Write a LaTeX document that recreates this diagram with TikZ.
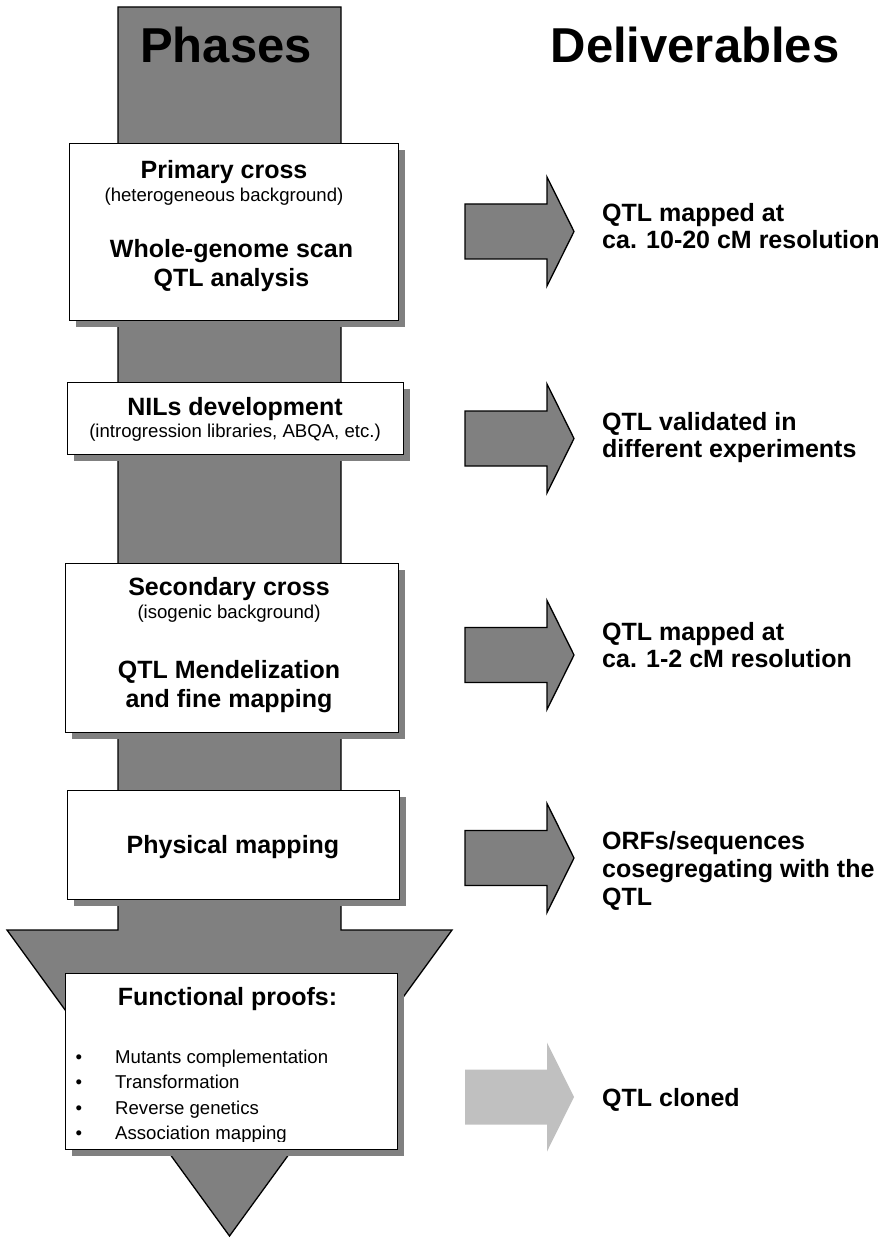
\documentclass[tikz,border=0pt]{standalone}
\usepackage{fontspec}
\setmainfont{Liberation Sans}
\usetikzlibrary{shadows}
\definecolor{phasegray}{RGB}{128,128,128}
\definecolor{palegray}{RGB}{192,192,192}
\tikzset{
  fatarrow/.pic={\path[pic actions] (0,-27.5) -- (82,-27.5) -- (82,-54.5) -- (109,0)
      -- (82,54.5) -- (82,27.5) -- (0,27.5) -- cycle;}
}
\begin{document}
\begin{tikzpicture}[x=1pt,y=-1pt,
  outline/.style={draw=black, line width=1.3pt, line join=miter},
  phasebox/.style={rectangle, draw=black, line width=1.3pt, fill=white,
    anchor=north west, inner sep=0pt,
    drop shadow={shadow xshift=6pt, shadow yshift=-6pt, fill=phasegray, opacity=1}},
  bigtitle/.style={font=\fontsize{49}{56}\selectfont\bfseries, anchor=base, inner sep=0pt},
  boldline/.style={font=\fontsize{25}{29}\selectfont\bfseries, anchor=base, inner sep=0pt},
  smallline/.style={font=\fontsize{18.6}{21}\selectfont, anchor=base, inner sep=0pt},
  bulletmark/.style={font=\fontsize{18.6}{21}\selectfont, anchor=base, inner sep=0pt},
  bullettext/.style={font=\fontsize{18.6}{21}\selectfont, anchor=base west, inner sep=0pt},
  delivtext/.style={font=\fontsize{25}{29}\selectfont\bfseries, anchor=base west, inner sep=0pt}
]
\useasboundingbox (0,0) rectangle (885,1238);

% the big downward "Phases" arrow
\draw[outline, fill=phasegray] (118,7) -- (341,7) -- (341,930) -- (452,930)
  -- (229.5,1236) -- (7,930) -- (118,930) -- cycle;

% column titles
\node[bigtitle] (phases) at (226,63) {Phases};
\node[bigtitle] (deliverables) at (695,63) {Deliverables};

% phase boxes
\node[phasebox, minimum width=329pt, minimum height=177pt] (primary) at (69,143) {};
\node[phasebox, minimum width=336pt, minimum height=72pt] (nils) at (67,382) {};
\node[phasebox, minimum width=333pt, minimum height=169pt] (secondary) at (65,563) {};
\node[phasebox, minimum width=332pt, minimum height=109pt] (physical) at (67,790) {};
\node[phasebox, minimum width=332pt, minimum height=176pt] (functional) at (65,973) {};

% texts of the phase boxes
\node[boldline] (prim1) at (224,179) {Primary cross};
\node[smallline] (prim2) at (224,202) {(heterogeneous background)};
\node[boldline] (prim3) at (231.5,258) {Whole-genome scan};
\node[boldline] (prim4) at (231.5,287) {QTL analysis};

\node[boldline] (nils1) at (235,415) {NILs development};
\node[smallline] (nils2) at (235,437) {(introgression libraries, ABQA, etc.)};

\node[boldline] (sec1) at (229,595) {Secondary cross};
\node[smallline] (sec2) at (229,618) {(isogenic background)};
\node[boldline] (sec3) at (229,678) {QTL Mendelization};
\node[boldline] (sec4) at (229,707) {and fine mapping};

\node[boldline] (phys1) at (233,853.5) {Physical mapping};

\node[boldline] (func1) at (227.5,1005) {Functional proofs:};
\begin{scope}
  \clip (65,973) rectangle (397,1141);
  \node[bulletmark] (b1) at (79,1063) {•};
  \node[bullettext] (t1) at (115,1063) {Mutants complementation};
  \node[bulletmark] (b2) at (79,1088.5) {•};
  \node[bullettext] (t2) at (115,1088.5) {Transformation};
  \node[bulletmark] (b3) at (79,1114) {•};
  \node[bullettext] (t3) at (115,1114) {Reverse genetics};
  \node[bulletmark] (b4) at (79,1139.5) {•};
  \node[bullettext] (t4) at (115,1139.5) {Association mapping};
\end{scope}

% deliverable arrows
\pic[outline, fill=phasegray] at (465,231.5) {fatarrow};
\pic[outline, fill=phasegray] at (465,438.5) {fatarrow};
\pic[outline, fill=phasegray] at (465,655) {fatarrow};
\pic[outline, fill=phasegray] at (465,858) {fatarrow};
\pic[fill=palegray] at (465,1097) {fatarrow};

% deliverable texts
\node[delivtext] (d1a) at (602,222) {QTL mapped at};
\node[delivtext] (d1b) at (602,249) {ca. 10-20 cM resolution};
\node[delivtext] (d2a) at (602,430) {QTL validated in};
\node[delivtext] (d2b) at (602,457) {different experiments};
\node[delivtext] (d3a) at (602,640) {QTL mapped at};
\node[delivtext] (d3b) at (602,667) {ca. 1-2 cM resolution};
\node[delivtext] (d4a) at (602,849) {ORFs/sequences};
\node[delivtext] (d4b) at (602,877) {cosegregating with the};
\node[delivtext] (d4c) at (602,905) {QTL};
\node[delivtext] (d5a) at (602,1106) {QTL cloned};
\end{tikzpicture}
\end{document}
